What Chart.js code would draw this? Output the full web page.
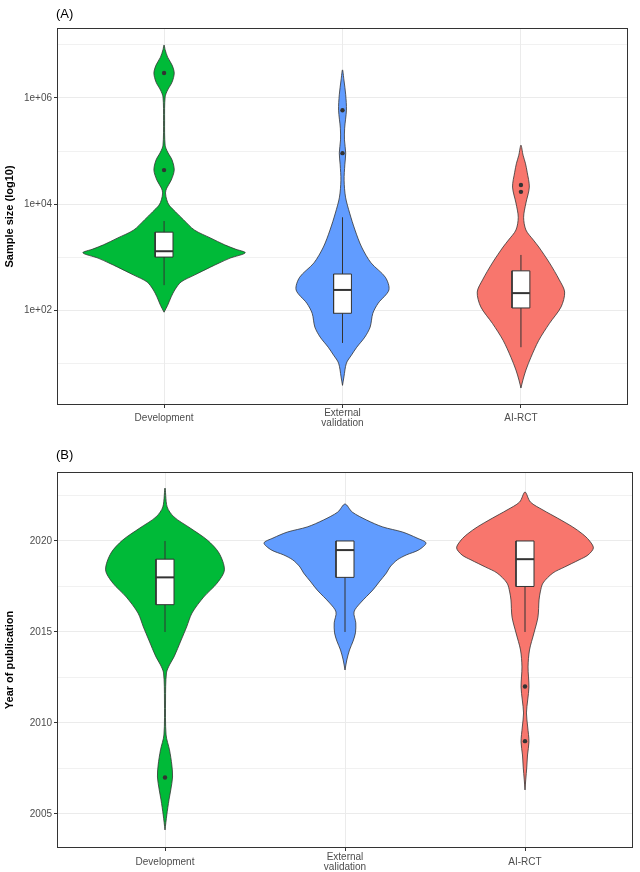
<!DOCTYPE html>
<html>
<head>
<meta charset="utf-8">
<script src="https://cdn.jsdelivr.net/npm/chart.js@4.4.0/dist/chart.umd.min.js"></script>
<style>
    body { margin: 0; background: #fff; }
    .painel { position: absolute; left: 0; width: 640px; }
</style>
</head>
<body>
<div class="painel" style="top:0;height:440px"><canvas id="graficoAmostra" width="640" height="440"></canvas></div>
<div class="painel" style="top:440px;height:432px"><canvas id="graficoAno" width="640" height="432"></canvas></div>

<script>
// violinos.js - Tamanho amostral e ano de publicação por tipo de estudo

const grupos = ['Development', ['External', 'validation'], 'AI-RCT'];
const coresGrupos = ['#00BA38', '#619CFF', '#F8766D'];
const posicoesGrupos = [1, 2, 3];

// (A) tamanho amostral em log10 - contorno do violino (nível, meia largura)
const amostraNiveis = [
    [1.96, 2.09, 2.25, 2.38, 2.53, 2.66, 2.81, 2.89, 2.98, 3.08, 3.15, 3.23, 3.36, 3.51, 3.70, 3.85, 3.98, 4.08, 4.21, 4.30, 4.45, 4.64, 4.83, 4.98, 5.11, 5.58, 6.02, 6.15, 6.30, 6.47, 6.62, 6.77, 6.91, 7.00],
    [0.58, 0.74, 1.00, 1.15, 1.30, 1.49, 1.68, 1.94, 2.13, 2.38, 2.62, 2.89, 3.19, 3.51, 3.83, 4.13, 4.45, 4.74, 4.96, 5.21, 5.43, 5.77, 6.06, 6.34, 6.53],
    [0.53, 0.68, 0.87, 1.11, 1.43, 1.75, 2.06, 2.34, 2.57, 2.89, 3.19, 3.32, 3.51, 3.75, 4.02, 4.32, 4.60, 4.77, 4.92, 5.11]
];
const amostraLarguras = [
    [0, 0.02, 0.04, 0.06, 0.095, 0.17, 0.26, 0.31, 0.37, 0.455, 0.40, 0.34, 0.26, 0.17, 0.11, 0.065, 0.028, 0.015, 0.008, 0.015, 0.04, 0.057, 0.045, 0.02, 0.006, 0.003, 0.006, 0.02, 0.045, 0.057, 0.045, 0.02, 0.006, 0],
    [0, 0.008, 0.022, 0.05, 0.08, 0.125, 0.155, 0.17, 0.20, 0.26, 0.24, 0.16, 0.107, 0.07, 0.04, 0.017, 0.009, 0.013, 0.018, 0.011, 0.012, 0.022, 0.018, 0.008, 0],
    [0, 0.011, 0.028, 0.056, 0.10, 0.16, 0.225, 0.245, 0.215, 0.16, 0.10, 0.07, 0.028, 0.015, 0.028, 0.047, 0.035, 0.025, 0.012, 0]
];
// [bigode inferior, q1, mediana, q3, bigode superior]
const amostraCaixas = [
    [2.47, 3.00, 3.11, 3.47, 3.68],
    [1.38, 1.94, 2.38, 2.68, 3.75],
    [1.30, 2.04, 2.32, 2.74, 3.04]
];
const amostraOutliers = [[4.64, 6.47], [4.96, 5.77], [4.23, 4.36]];
const amostraTicks = [1, 2, 3, 4, 5, 6, 7];
const amostraRotulos = ['', '1e+02', '', '1e+04', '', '1e+06', ''];

// (B) ano de publicação
const anoNiveis = [
    [2004.12, 2004.95, 2005.77, 2006.32, 2007.03, 2007.69, 2008.52, 2009.34, 2011.26, 2012.75, 2013.19, 2013.63, 2014.56, 2015.27, 2016.04, 2016.92, 2017.69, 2018.41, 2019.34, 2020.05, 2020.71, 2021.32, 2021.87, 2022.91],
    [2012.91, 2013.46, 2014.01, 2014.50, 2014.95, 2015.50, 2016.10, 2016.59, 2017.31, 2017.75, 2018.24, 2018.57, 2018.96, 2019.23, 2019.51, 2019.89, 2020.16, 2020.49, 2020.77, 2021.15, 2021.59, 2022.03],
    [2006.32, 2006.87, 2007.58, 2008.24, 2008.96, 2009.78, 2010.55, 2011.26, 2011.98, 2013.08, 2014.01, 2014.95, 2015.82, 2016.76, 2017.20, 2017.69, 2018.24, 2018.57, 2018.96, 2019.23, 2019.62, 2020.05, 2020.38, 2020.77, 2021.26, 2021.70, 2022.14, 2022.69]
];
const anoLarguras = [
    [0, 0.01, 0.022, 0.032, 0.042, 0.038, 0.025, 0.006, 0.003, 0.008, 0.025, 0.05, 0.09, 0.12, 0.15, 0.215, 0.29, 0.33, 0.30, 0.235, 0.14, 0.05, 0.012, 0],
    [0, 0.01, 0.025, 0.045, 0.058, 0.06, 0.05, 0.085, 0.155, 0.19, 0.23, 0.25, 0.29, 0.34, 0.41, 0.45, 0.40, 0.32, 0.21, 0.12, 0.04, 0],
    [0, 0.004, 0.01, 0.014, 0.022, 0.015, 0.008, 0.015, 0.022, 0.017, 0.025, 0.05, 0.072, 0.078, 0.085, 0.10, 0.155, 0.22, 0.30, 0.35, 0.38, 0.355, 0.32, 0.265, 0.18, 0.10, 0.03, 0]
];
const anoCaixas = [
    [2015, 2016.5, 2018, 2019, 2020],
    [2015, 2018, 2019.5, 2020, 2020],
    [2015, 2017.5, 2019, 2020, 2020]
];
const anoOutliers = [[2007], [], [2009, 2012]];
const anoTicks = [2005, 2007.5, 2010, 2012.5, 2015, 2017.5, 2020, 2022.5];
const anoRotulos = ['2005', '', '2010', '', '2015', '', '2020', ''];

const FONTE = '"Liberation Sans", Arial, Helvetica, sans-serif';
const MEIA_CAIXA = 0.05;
const CONTORNO = '#333333';

Chart.defaults.font.family = FONTE;
Chart.defaults.animation = false;

// moldura do painel + letra (A)/(B)
const pluginMoldura = {
    id: 'moldura',
    afterDatasetsDraw(chart, args, opts) {
        const { ctx, chartArea: a } = chart;
        ctx.save();
        ctx.strokeStyle = CONTORNO;
        ctx.lineWidth = 1;
        ctx.strokeRect(a.left + 0.5, a.top + 0.5, a.width - 1, a.height - 1);
        ctx.fillStyle = '#000';
        ctx.font = '13px ' + FONTE;
        ctx.textBaseline = 'middle';
        ctx.fillText(opts.texto, a.left - 1, opts.y);
        ctx.restore();
    }
};

function montarViolino(centro, niveis, larguras, cor) {
    const direita = niveis.map((v, i) => ({ x: centro + larguras[i], y: v }));
    const esquerda = niveis.map((v, i) => ({ x: centro - larguras[i], y: v })).reverse().slice(1);
    return {
        data: direita.concat(esquerda),
        showLine: true,
        fill: 'shape',
        tension: 0.3,
        backgroundColor: cor,
        borderColor: CONTORNO,
        borderWidth: 0.8,
        pointRadius: 0,
        order: 4
    };
}

function montarBoxplot(centro, caixa) {
    const [inf, q1, med, q3, sup] = caixa;
    const bigode = {
        data: [{ x: centro, y: inf }, { x: centro, y: sup }],
        showLine: true, borderColor: CONTORNO, borderWidth: 1, pointRadius: 0, order: 3
    };
    const corpo = {
        data: [
            { x: centro - MEIA_CAIXA, y: q1 }, { x: centro + MEIA_CAIXA, y: q1 },
            { x: centro + MEIA_CAIXA, y: q3 }, { x: centro - MEIA_CAIXA, y: q3 },
            { x: centro - MEIA_CAIXA, y: q1 }
        ],
        showLine: true, fill: 'shape', tension: 0,
        backgroundColor: '#ffffff', borderColor: CONTORNO, borderWidth: 1, pointRadius: 0, order: 2
    };
    const mediana = {
        data: [{ x: centro - MEIA_CAIXA, y: med }, { x: centro + MEIA_CAIXA, y: med }],
        showLine: true, borderColor: CONTORNO, borderWidth: 2, pointRadius: 0, order: 1
    };
    return [bigode, corpo, mediana];
}

function criarPainel(idCanvas, cfg) {
    let datasets = [];
    posicoesGrupos.forEach((c, i) => {
        datasets.push(montarViolino(c, cfg.niveis[i], cfg.larguras[i], coresGrupos[i]));
        datasets = datasets.concat(montarBoxplot(c, cfg.caixas[i]));
        if (cfg.outliers[i].length) {
            datasets.push({
                data: cfg.outliers[i].map(v => ({ x: c, y: v })),
                pointRadius: 2.2,
                pointBackgroundColor: CONTORNO,
                pointBorderWidth: 0,
                order: 0
            });
        }
    });

    const ctx = document.getElementById(idCanvas).getContext('2d');
    return new Chart(ctx, {
        type: 'scatter',
        data: { datasets: datasets },
        options: {
            responsive: false,
            layout: { padding: { top: cfg.topo, right: cfg.direita, left: 0, bottom: 0 } },
            plugins: {
                legend: { display: false },
                tooltip: { enabled: false },
                moldura: { texto: cfg.letra, y: cfg.yLetra }
            },
            scales: {
                x: {
                    type: 'linear', min: 0.4, max: 3.6,
                    afterBuildTicks: s => { s.ticks = posicoesGrupos.map(v => ({ value: v })); },
                    afterFit: s => { s.height = cfg.alturaX; },
                    ticks: {
                        callback: v => grupos[posicoesGrupos.indexOf(v)],
                        color: '#4d4d4d',
                        font: { size: 10, lineHeight: 1 },
                        padding: cfg.padX,
                        crossAlign: 'center',
                        maxRotation: 0,
                        autoSkip: false
                    },
                    grid: { color: '#ebebeb', tickLength: 3, tickColor: CONTORNO },
                    border: { display: false }
                },
                y: {
                    type: 'linear', min: cfg.min, max: cfg.max,
                    afterBuildTicks: s => { s.ticks = cfg.ticks.map(v => ({ value: v })); },
                    afterFit: s => { s.width = 57; },
                    ticks: {
                        callback: v => cfg.rotulos[cfg.ticks.indexOf(v)],
                        color: '#4d4d4d',
                        font: { size: 10 },
                        padding: 2,
                        autoSkip: false
                    },
                    grid: {
                        color: '#ebebeb',
                        lineWidth: c => (c.tick && cfg.rotulos[cfg.ticks.indexOf(c.tick.value)]) ? 1 : 0.7,
                        tickLength: 3,
                        tickColor: c => (c.tick && cfg.rotulos[cfg.ticks.indexOf(c.tick.value)]) ? CONTORNO : 'rgba(0,0,0,0)'
                    },
                    border: { display: false },
                    title: {
                        display: true,
                        text: cfg.titulo,
                        color: '#000',
                        font: { size: 11, weight: 'bold' },
                        padding: { top: 3, bottom: 0 }
                    }
                }
            }
        },
        plugins: [pluginMoldura]
    });
}

criarPainel('graficoAmostra', {
    niveis: amostraNiveis, larguras: amostraLarguras, caixas: amostraCaixas, outliers: amostraOutliers,
    ticks: amostraTicks, rotulos: amostraRotulos, min: 0.21, max: 7.32,
    titulo: 'Sample size (log10)', letra: '(A)', yLetra: 14,
    topo: 28, direita: 12, alturaX: 35, padX: 5
});

criarPainel('graficoAno', {
    niveis: anoNiveis, larguras: anoLarguras, caixas: anoCaixas, outliers: anoOutliers,
    ticks: anoTicks, rotulos: anoRotulos, min: 2003.13, max: 2023.79,
    titulo: 'Year of publication', letra: '(B)', yLetra: 15,
    topo: 32, direita: 7, alturaX: 24, padX: 6
});
</script>
</body>
</html>
